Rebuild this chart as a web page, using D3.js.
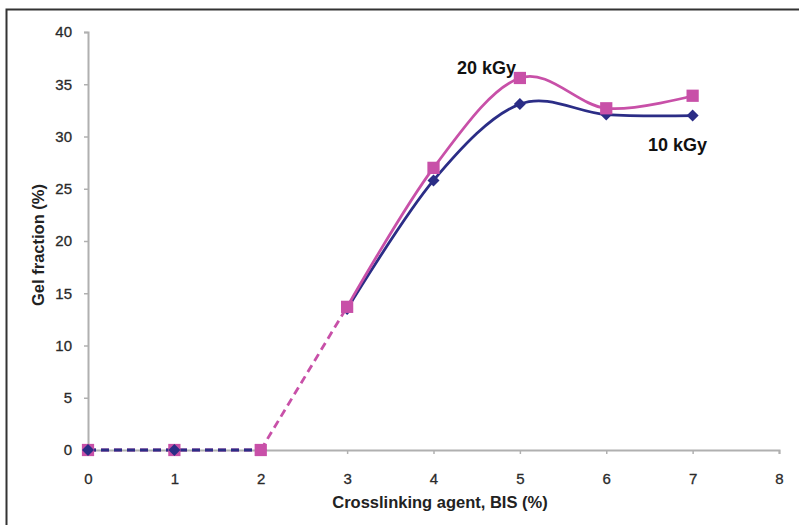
<!DOCTYPE html>
<html><head><meta charset="utf-8">
<script src="https://cdn.jsdelivr.net/npm/d3@7"></script>
<style>body{margin:0;background:#fff}svg{display:block;font-family:Arial,"Liberation Sans",Helvetica,sans-serif}</style>
</head><body>
<svg id="c" width="799" height="525"></svg>
<script>
const xValues = [0, 1, 2, 3, 4, 5, 6, 7];
const gel10 = [0, 0, 0, 13.5, 25.8, 33.1, 32.1, 32.0];
const gel20 = [0, 0, 0, 13.7, 27.0, 35.6, 32.7, 33.9];
const xTicks = [0, 1, 2, 3, 4, 5, 6, 7, 8];
const yTicks = [0, 5, 10, 15, 20, 25, 30, 35, 40];
const seriesLabels = ["10 kGy", "20 kGy"];
const dashedUntil = 3; // x value where dashed part ends and smooth solid curve begins

const svg = d3.select("#c");
const blue = "#2b2d86", pink = "#c850a8";

// frame
svg.append("rect").attr("x", 6.5).attr("y", 9.5).attr("width", 820).attr("height", 540)
  .attr("fill", "none").attr("stroke", "#333").attr("stroke-width", 2);

const x = d3.scaleLinear().domain([0, 8]).range([88, 779]);
const y = d3.scaleLinear().domain([0, 40]).range([450, 32]);

const axisColor = "#b0b0b0";
const xAxis = svg.append("g").attr("transform", "translate(0,450)")
  .call(d3.axisBottom(x).tickValues(xTicks).tickSize(4).tickPadding(19).tickFormat(d3.format("d")));
const yAxis = svg.append("g").attr("transform", "translate(88,0)")
  .call(d3.axisLeft(y).tickValues(yTicks).tickSize(4).tickPadding(12).tickFormat(d3.format("d")));
[xAxis, yAxis].forEach(g => {
  g.select(".domain").attr("stroke", axisColor).attr("stroke-width", 2);
  g.selectAll(".tick line").attr("stroke", axisColor).attr("stroke-width", 1.5);
  g.selectAll(".tick text").attr("fill", "#2a2a2a").attr("font-size", 15)
    .attr("stroke", "#2a2a2a").attr("stroke-width", 0.3);
});

svg.append("text").attr("x", 440).attr("y", 508).attr("text-anchor", "middle")
  .attr("font-size", 16.5).attr("font-weight", "bold").attr("fill", "#222")
  .text("Crosslinking agent, BIS (%)");
svg.append("text").attr("transform", "translate(44,245) rotate(-90)").attr("text-anchor", "middle")
  .attr("font-size", 16.5).attr("font-weight", "bold").attr("fill", "#222")
  .text("Gel fraction (%)");

const pts = vals => xValues.map((xv, i) => ({x: xv, y: vals[i]}));
const s10 = pts(gel10), s20 = pts(gel20);
const straight = d3.line().x(d => x(d.x)).y(d => y(d.y));
const smooth = d3.line().x(d => x(d.x)).y(d => y(d.y)).curve(d3.curveCardinal.tension(0));

function dashed(data, color, from, to) {
  svg.append("path").attr("d", straight(data.filter(d => d.x >= from && d.x <= to)))
    .attr("fill", "none").attr("stroke", color).attr("stroke-width", 2.8)
    .attr("stroke-dasharray", "8,5");
}
function solid(data, color) {
  svg.append("path").attr("d", smooth(data.filter(d => d.x >= dashedUntil)))
    .attr("fill", "none").attr("stroke", color).attr("stroke-width", 2.8);
}
dashed(s20, pink, 0, 2);
dashed(s10, blue, 0, 2);
dashed(s20, pink, 2, dashedUntil);
solid(s10, blue);
solid(s20, pink);

const sq = d3.symbol().type(d3.symbolSquare).size(150);
const dm = d3.symbol().type(d3.symbolSquare).size(72);
function markers(data, color, sym, rot) {
  svg.append("g").selectAll("path").data(data).join("path")
    .attr("transform", d => `translate(${x(d.x)},${y(d.y)}) rotate(${rot})`)
    .attr("d", sym).attr("fill", color);
}
markers(s10.filter(d => d.x >= 2), blue, dm, 45);
markers(s20, pink, sq, 0);
markers(s10.filter(d => d.x < 2), blue, dm, 45);

svg.append("text").attr("x", 457).attr("y", 74).attr("font-size", 18).attr("font-weight", "bold")
  .attr("fill", "#111").text(seriesLabels[1]);
svg.append("text").attr("x", 648).attr("y", 151).attr("font-size", 18).attr("font-weight", "bold")
  .attr("fill", "#111").text(seriesLabels[0]);
</script>
</body></html>
